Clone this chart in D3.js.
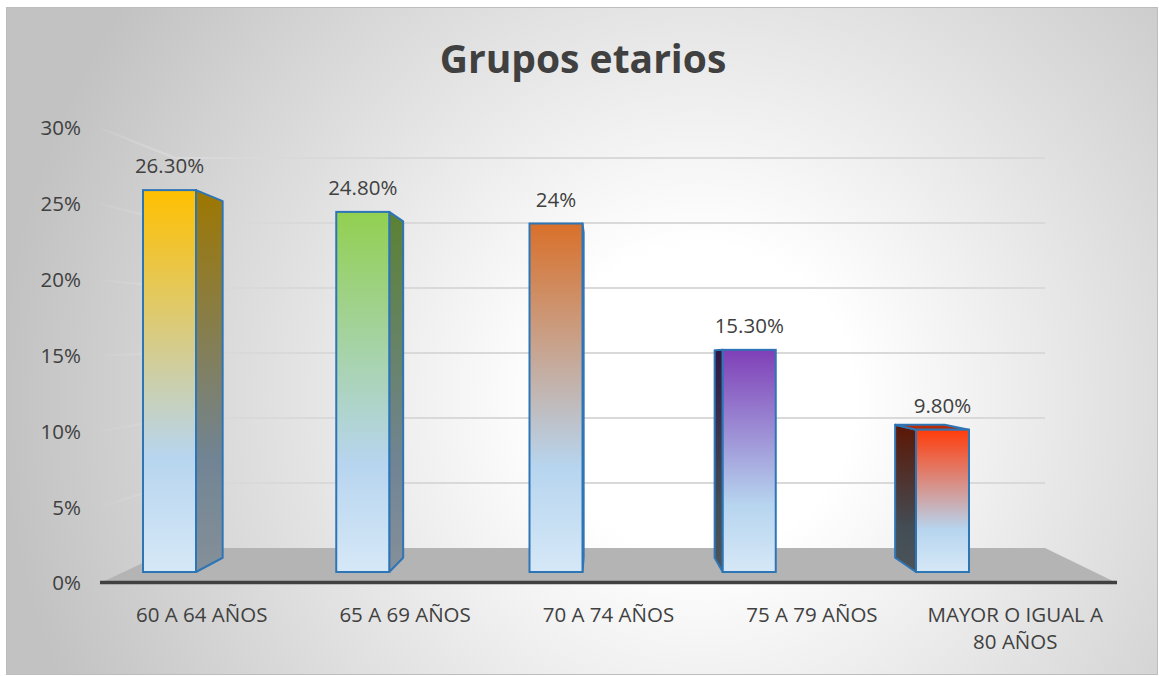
<!DOCTYPE html>
<html>
<head>
<meta charset="utf-8">
<script src="https://cdn.jsdelivr.net/npm/d3@7"></script>
<style>
  body { margin: 0; background: #fff; }
  svg { display: block; }
</style>
</head>
<body>
<div id="chart"></div>
<script>
// data
var categories = ["60 A 64 AÑOS", "65 A 69 AÑOS", "70 A 74 AÑOS", "75 A 79 AÑOS", "MAYOR O IGUAL A 80 AÑOS"];
var values = [26.3, 24.8, 24, 15.3, 9.8];
var valueLabels = ["26.30%", "24.80%", "24%", "15.30%", "9.80%"];
var tickValues = [0, 5, 10, 15, 20, 25, 30];
var title = "Grupos etarios";

// styles
var barColors = ["#FFC000", "#92D050", "#D9702A", "#7F3FB7", "#FF3C0A"];
var blueMid = "#B7D5EF", blueLow = "#D6E8F7";
var font = "'Open Sans', 'Noto Sans', sans-serif";
var textColor = "#404040";

var width = 1159, height = 676;
var svg = d3.select("#chart").append("svg")
	.attr("width", width)
	.attr("height", height);
var defs = svg.append("defs");

// background
var bg = defs.append("radialGradient").attr("id", "bg")
	.attr("gradientUnits", "userSpaceOnUse")
	.attr("cx", 700).attr("cy", 400).attr("r", 700);
bg.append("stop").attr("offset", 0).attr("stop-color", "#ffffff");
bg.append("stop").attr("offset", 0.22).attr("stop-color", "#ffffff");
bg.append("stop").attr("offset", 1).attr("stop-color", "#c2c2c2");

svg.append("rect")
	.attr("x", 6.5).attr("y", 7.5)
	.attr("width", 1151).attr("height", 667)
	.attr("fill", "url(#bg)")
	.attr("stroke", "#bdbdbd").attr("stroke-width", 1);

// scales (front edge, back wall, bar depth)
var yFront = d3.scaleLinear().domain([0, 30]).range([583, 128]);
var yBack = d3.scaleLinear().domain([0, 30]).range([548, 158]);
var yBar = d3.scaleLinear().domain([0, 30]).range([572, 136.4]);
var xLabel = d3.scalePoint().domain(categories).range([100, 1117]).padding(0.5);
var xBar = d3.scalePoint().domain(categories).range([169.5, 942.5]);
var barW = 53;
var front = { left: 100, right: 1117 }, back = { left: 175, right: 1045 };
var vp = { x: 600, y: 356 }, depth = 0.066;

// side wall fading gridlines
var wallGrad = defs.append("linearGradient").attr("id", "wallGrid")
	.attr("gradientUnits", "userSpaceOnUse")
	.attr("x1", front.left).attr("x2", back.left).attr("y1", 0).attr("y2", 0);
wallGrad.append("stop").attr("offset", 0).attr("stop-color", "#d9d9d9").attr("stop-opacity", 0.1);
wallGrad.append("stop").attr("offset", 1).attr("stop-color", "#d9d9d9").attr("stop-opacity", 1);

var grid = svg.append("g").attr("class", "grid");
var gridTicks = tickValues.filter(function (d) { return d > 0; });
grid.selectAll("line.wall")
	.data(gridTicks)
	.enter().append("line")
	.attr("class", "wall")
	.attr("x1", front.left).attr("y1", function (d) { return yFront(d); })
	.attr("x2", back.left).attr("y2", function (d) { return yBack(d); })
	.attr("stroke", "url(#wallGrid)").attr("stroke-width", 2);
grid.selectAll("line.back")
	.data(gridTicks)
	.enter().append("line")
	.attr("class", "back")
	.attr("x1", back.left).attr("y1", function (d) { return yBack(d); })
	.attr("x2", back.right).attr("y2", function (d) { return yBack(d); })
	.attr("stroke", "#d9d9d9").attr("stroke-width", 2);

// floor
svg.append("polygon")
	.attr("points", [
		[front.left, yFront(0)], [back.left, yBack(0)],
		[back.right, yBack(0)], [front.right, yFront(0)]
	].map(function (p) { return p.join(","); }).join(" "))
	.attr("fill", "#b4b4b4");

svg.append("line")
	.attr("x1", front.left).attr("x2", front.right)
	.attr("y1", yFront(0) - 0.5).attr("y2", yFront(0) - 0.5)
	.attr("stroke", "#404040").attr("stroke-width", 3.5);

// y axis labels
svg.append("g").selectAll("text")
	.data(tickValues)
	.enter().append("text")
	.attr("x", 81)
	.attr("y", function (d) { return yFront(d); })
	.attr("dy", "0.36em")
	.attr("text-anchor", "end")
	.attr("font-family", font).attr("font-size", "20.5px")
	.attr("fill", textColor)
	.text(function (d) { return d + "%"; });

// colour helpers
function shade(c, f) {
	var r = d3.rgb(c);
	return d3.rgb(r.r * f, r.g * f, r.b * f).formatHex();
}
function addGrad(id, top, f) {
	var g = defs.append("linearGradient").attr("id", id)
		.attr("x1", 0).attr("y1", 0).attr("x2", 0).attr("y2", 1);
	g.append("stop").attr("offset", 0).attr("stop-color", shade(top, f));
	g.append("stop").attr("offset", 0.7).attr("stop-color", shade(blueMid, f));
	g.append("stop").attr("offset", 1).attr("stop-color", shade(blueLow, f));
}
function toBack(p) {
	return [p[0] + (vp.x - p[0]) * depth, p[1] + (vp.y - p[1]) * depth];
}
function pts(a) { return a.map(function (p) { return p.join(","); }).join(" "); }

// bars
var bars = svg.append("g").attr("class", "bars");
categories.forEach(function (cat, i) {
	var c = barColors[i];
	addGrad("front" + i, c, 1);
	addGrad("sideR" + i, c, 0.62);
	addGrad("sideL" + i, c, 0.36);

	var x0 = xBar(cat) - barW / 2, x1 = xBar(cat) + barW / 2;
	var yt = yBar(values[i]), yb = yBar(0);
	var TL = [x0, yt], TR = [x1, yt], BR = [x1, yb], BL = [x0, yb];
	var g = bars.append("g");

	if (x1 < vp.x) {
		g.append("polygon")
			.attr("points", pts([TR, toBack(TR), toBack(BR), BR]))
			.attr("fill", "url(#sideR" + i + ")")
			.attr("stroke", "#2e75b6").attr("stroke-width", 2).attr("stroke-linejoin", "round");
	}
	if (x0 > vp.x) {
		g.append("polygon")
			.attr("points", pts([TL, toBack(TL), toBack(BL), BL]))
			.attr("fill", "url(#sideL" + i + ")")
			.attr("stroke", "#2e75b6").attr("stroke-width", 2).attr("stroke-linejoin", "round");
	}
	if (yt > vp.y) {
		g.append("polygon")
			.attr("points", pts([TL, TR, toBack(TR), toBack(TL)]))
			.attr("fill", shade(c, 0.72))
			.attr("stroke", "#2e75b6").attr("stroke-width", 2).attr("stroke-linejoin", "round");
	}
	g.append("rect")
		.attr("x", x0).attr("y", yt)
		.attr("width", barW).attr("height", yb - yt)
		.attr("fill", "url(#front" + i + ")")
		.attr("stroke", "#2e75b6").attr("stroke-width", 2);

	g.append("text")
		.attr("x", xBar(cat))
		.attr("y", yt - 17)
		.attr("text-anchor", "middle")
		.attr("font-family", font).attr("font-size", "20.5px")
		.attr("fill", textColor)
		.text(valueLabels[i]);
});

// category labels (wrapped)
var catG = svg.append("g");
categories.forEach(function (cat) {
	var t = catG.append("text")
		.attr("x", xLabel(cat))
		.attr("y", 622)
		.attr("text-anchor", "middle")
		.attr("font-family", font).attr("font-size", "20.5px")
		.attr("fill", textColor);
	var words = cat.split(" "), line = [], lineNo = 0;
	var span = t.append("tspan").attr("x", xLabel(cat)).attr("y", 622);
	words.forEach(function (w) {
		line.push(w);
		span.text(line.join(" "));
		if (span.node().getComputedTextLength() > 195 && line.length > 1) {
			line.pop();
			span.text(line.join(" "));
			line = [w];
			lineNo++;
			span = t.append("tspan").attr("x", xLabel(cat)).attr("y", 622 + lineNo * 27).text(w);
		}
	});
});

// title
svg.append("text")
	.attr("x", 583).attr("y", 73)
	.attr("text-anchor", "middle")
	.attr("font-family", font).attr("font-size", "39px").attr("font-weight", "bold")
	.attr("fill", textColor)
	.text(title);
</script>
</body>
</html>
